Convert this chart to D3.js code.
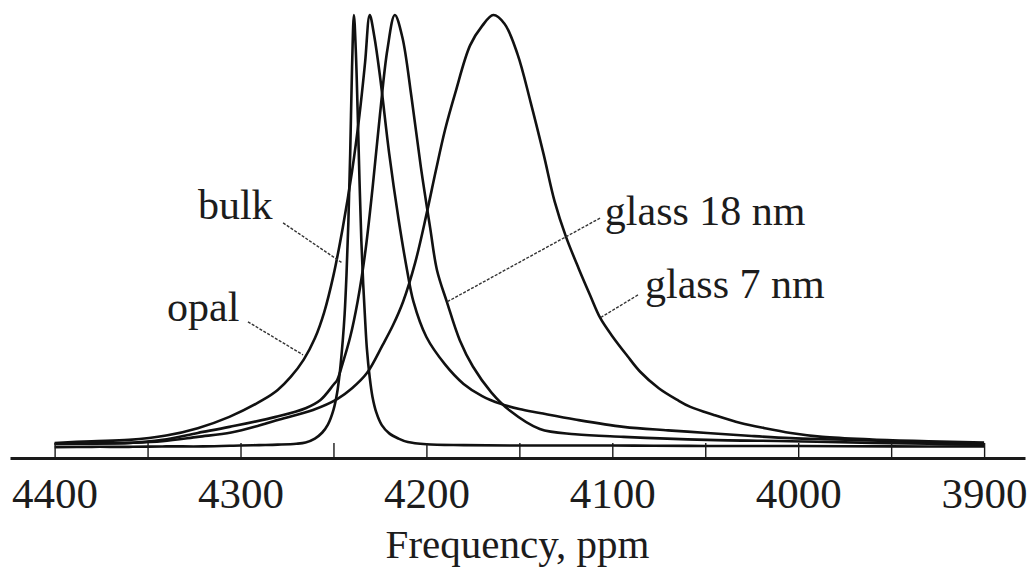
<!DOCTYPE html>
<html>
<head>
<meta charset="utf-8">
<script src="https://cdn.jsdelivr.net/npm/d3@7"></script>
<style>
  body { margin: 0; background: #fff; }
  text { font-family: "Liberation Serif", "Times New Roman", serif; fill: #1c1c1c; }
</style>
</head>
<body>
<svg id="chart" width="1033" height="570"></svg>
<script>
// NMR line shapes: frequency (ppm) vs normalised intensity (peak = 100)
const bulk = [[4400,0.4],[4380,0.5],[4360,0.5],[4340,0.6],[4320,0.6],[4300,0.8],[4290,0.9],[4280,1.0],[4270,1.2],[4265,1.5],[4260,2.4],[4256,3.8],[4253,5.6],[4250,9.0],[4248,13],[4246.5,18],[4245,25],[4244,31],[4243,40],[4242,52],[4241,68],[4240,88],[4239,100],[4238,92],[4237,78],[4236,62],[4235,48],[4234,38],[4233,30],[4232,23],[4230.5,16.5],[4229,12],[4227,8.5],[4224,5.5],[4220,3.6],[4215,2.4],[4210,1.6],[4200,1.1],[4180,0.9],[4150,0.8],[4100,0.8],[4050,0.7],[4000,0.7],[3950,0.6],[3900,0.6]];

const opal = [[4400,1.4],[4380,1.8],[4360,2.1],[4340,3.1],[4323,4.8],[4306,7.4],[4288,11.3],[4280,13.6],[4273,16.6],[4266,20.6],[4260,25.5],[4255,31.5],[4250,40],[4245,51],[4240,64],[4236,77],[4233,89],[4230.5,100],[4228,95],[4225,86],[4220,68],[4215,53],[4210.4,41.2],[4207,34],[4200,25.8],[4190,19.5],[4180,15],[4170,12.2],[4160,10.4],[4150,9.2],[4139,8.3],[4120,6.8],[4094,5.1],[4070,4.3],[4049,3.7],[4025,3.0],[4004,2.5],[3980,2.2],[3950,1.8],[3925,1.4],[3900,1.2]];

const glass18 = [[4400,1.2],[4380,1.3],[4360,1.4],[4342,2.1],[4323,3.7],[4306,5.1],[4281,7.4],[4265,9.4],[4257,11.3],[4250,14.8],[4248,15.9],[4245,19.8],[4241,25.8],[4237,34],[4233,45],[4229,60],[4225,77],[4221,92],[4217,100],[4213,95],[4208,81],[4203,65],[4198,51],[4194.3,41.2],[4189,33.9],[4182,25],[4175,19],[4165,13],[4155,8.8],[4139,4.6],[4120,3.4],[4094,2.8],[4049,2.1],[4004,1.8],[3960,1.4],[3930,1.2],[3900,1.0]];

const glass7 = [[4400,1.1],[4380,1.2],[4360,1.4],[4342,1.8],[4323,2.8],[4305,3.8],[4290,5.4],[4279,6.8],[4261,9.0],[4248,11.5],[4240,14],[4232,17.5],[4223.5,24],[4218,28.5],[4212.5,34],[4206,43],[4200,54],[4195,64],[4190,73.5],[4184.5,82],[4176.5,93],[4170,97.5],[4164,100],[4158,98],[4151,91],[4144,80],[4137,68],[4131,57],[4125,49],[4118,41.5],[4112,35.5],[4106.5,30.2],[4100,26],[4092,21.5],[4085,17.8],[4075,14],[4065,11.3],[4058,9.7],[4045,7.8],[4031,6.0],[4018,4.8],[4004,3.7],[3987,2.8],[3960,2.2],[3930,1.8],[3900,1.5]];

const seriesNames = ["bulk", "opal", "glass 18 nm", "glass 7 nm"];

// tick positions (ppm); only the hundreds carry a label
const tickValues = [4400,4350,4300,4250,4200,4150,4100,4050,4000,3950,3900];
const tickLabels = ["4400","4300","4200","4100","4000","3900"];

// label anchors and leader lines, in (ppm, intensity)
const labelAt    = [[4322.9,53],[4339.5,29.5],[4104,51.6],[4082.4,34.8]];
const leaderFrom = [[4277.1,52.1],[4296,29.3],[4106.6,53.2],[4086.2,35.5]];
const leaderTo   = [[4245.4,42.9],[4266.4,21.7],[4188.9,33.9],[4106.6,30.2]];

const xAxisTitle = "Frequency, ppm";

const svg = d3.select("#chart");
const axisY = 458;

const x = d3.scaleLinear().domain([4424, 3878]).range([10, 1025]);
const y = d3.scaleLinear().domain([0, 100]).range([449, 15]);

// spectra
const line = d3.line()
  .x(d => x(d[0]))
  .y(d => y(d[1]))
  .curve(d3.curveCatmullRom.alpha(0.5));

const series = [bulk, opal, glass18, glass7];
svg.append("g")
  .selectAll("path")
  .data(series)
  .join("path")
  .attr("d", line)
  .attr("fill", "none")
  .attr("stroke", "#111")
  .attr("stroke-width", 2.6)
  .attr("stroke-linejoin", "round");

// x axis: ticks point up into the plot, labels below
const labelSet = new Set(tickLabels);
const axis = d3.axisBottom(x)
  .tickValues(tickValues)
  .tickSizeInner(-15)
  .tickSizeOuter(0)
  .tickFormat(d => labelSet.has(String(d)) ? String(d) : "");

const gx = svg.append("g")
  .attr("transform", `translate(0,${axisY})`)
  .call(axis);
gx.select(".domain").attr("stroke", "#1a1a1a").attr("stroke-width", 3);
gx.selectAll(".tick line").attr("stroke", "#1a1a1a").attr("stroke-width", 1.4);
gx.selectAll(".tick text")
  .attr("y", 50)
  .attr("dy", null)
  .attr("fill", "#1c1c1c")
  .style("font-family", "'Liberation Serif', 'Times New Roman', serif")
  .style("font-size", "43px");

svg.append("text")
  .attr("x", (x.range()[0] + x.range()[1]) / 2)
  .attr("y", 558)
  .attr("text-anchor", "middle")
  .style("font-size", "41px")
  .text(xAxisTitle);

// leader lines and series labels
svg.append("g")
  .selectAll("line")
  .data(seriesNames)
  .join("line")
  .attr("x1", (d, i) => x(leaderFrom[i][0]))
  .attr("y1", (d, i) => y(leaderFrom[i][1]))
  .attr("x2", (d, i) => x(leaderTo[i][0]))
  .attr("y2", (d, i) => y(leaderTo[i][1]))
  .attr("stroke", "#333")
  .attr("stroke-width", 1.4)
  .attr("stroke-dasharray", "3,1.5");

svg.append("g")
  .selectAll("text")
  .data(seriesNames)
  .join("text")
  .attr("x", (d, i) => x(labelAt[i][0]))
  .attr("y", (d, i) => y(labelAt[i][1]))
  .style("font-size", "42px")
  .text(d => d);
</script>
</body>
</html>
